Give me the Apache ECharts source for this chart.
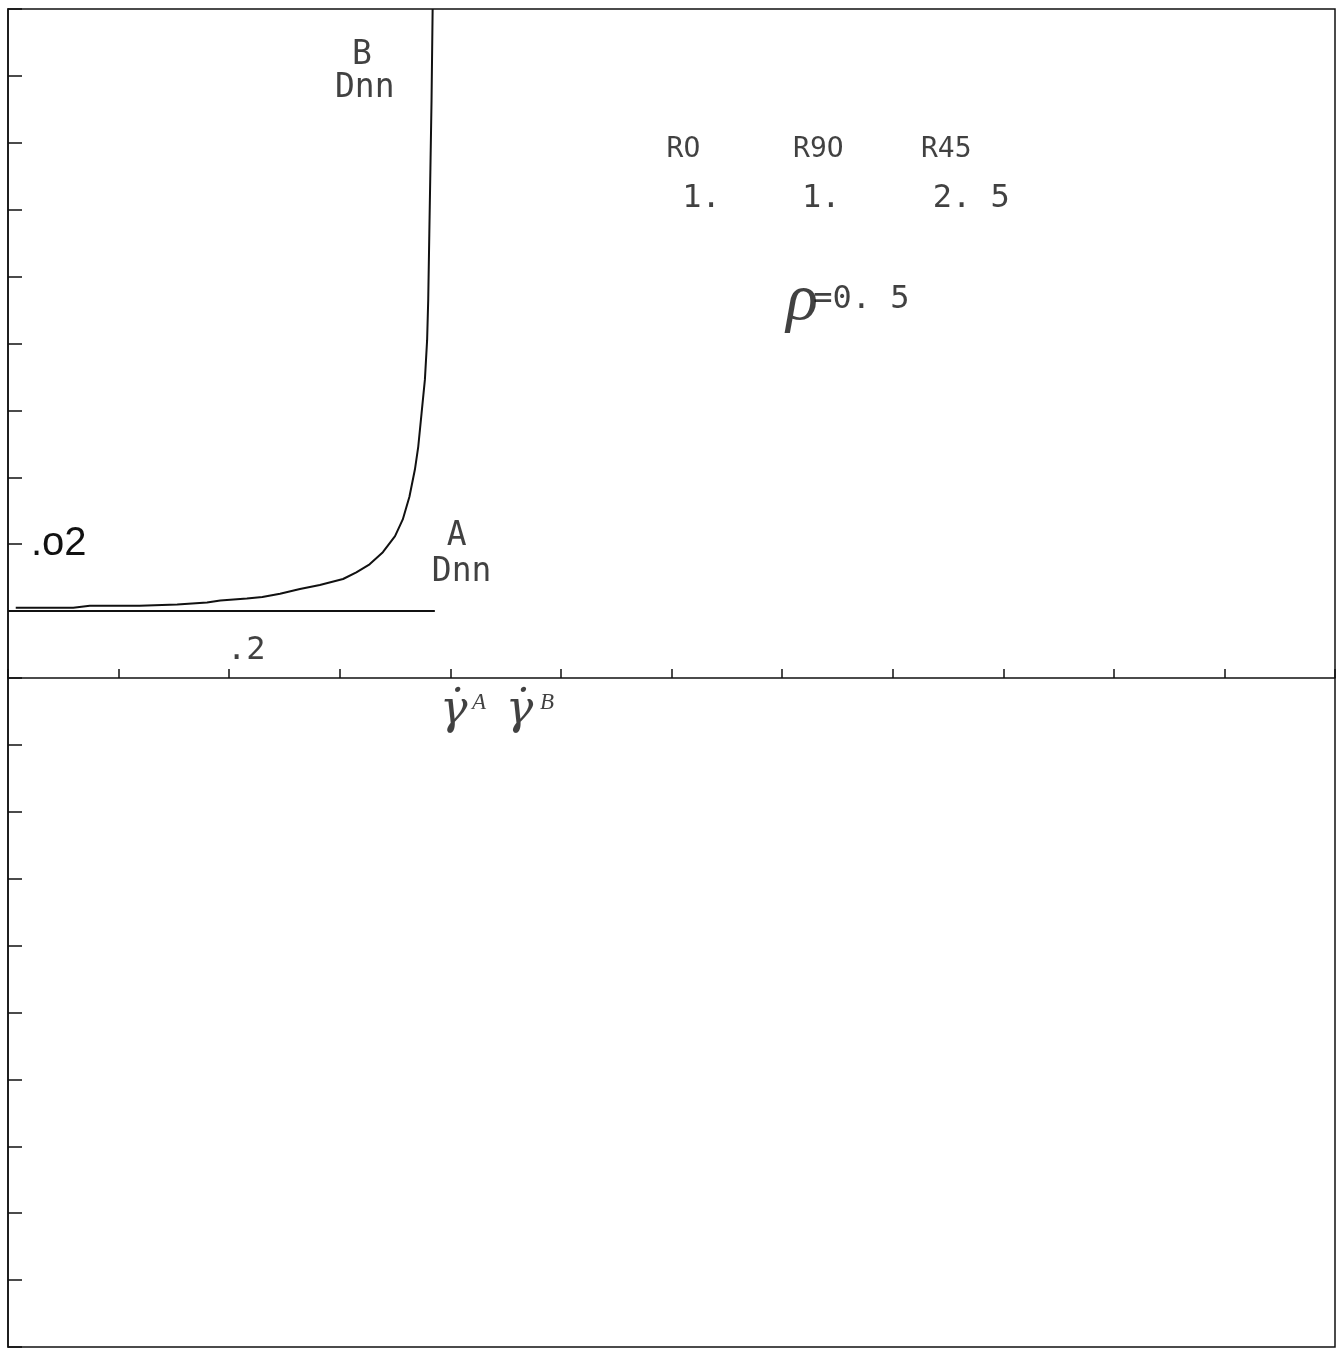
<!DOCTYPE html>
<html>
<head>
<meta charset="utf-8">
<style>
  html, body { margin: 0; padding: 0; background: #fff; }
  #chart { width: 1341px; height: 1349px; }
</style>
<script src="https://cdn.jsdelivr.net/npm/echarts@6/dist/echarts.min.js"></script>
</head>
<body>
<div id="chart"></div>
<script>
// curve to B (Dnn)
const curveBX = [0.007, 0.059, 0.074, 0.119, 0.153, 0.180, 0.192, 0.216, 0.230, 0.246,
  0.264, 0.282, 0.303, 0.315, 0.327, 0.339, 0.350, 0.357, 0.363, 0.368,
  0.371, 0.374, 0.377, 0.379, 0.380, 0.381, 0.382, 0.383, 0.384]
const curveBY = [0.0105, 0.0105, 0.0108, 0.0108, 0.0110, 0.0113, 0.0116, 0.0119, 0.0121, 0.0126,
  0.0133, 0.0139, 0.0148, 0.0158, 0.0170, 0.0188, 0.0212, 0.0237, 0.0271, 0.0312,
  0.0346, 0.0396, 0.0446, 0.0505, 0.0565, 0.0665, 0.0763, 0.0863, 0.1000]
// straight line to A (Dnn)
const lineAX = [0, 0.386]
const lineAY = [0.01, 0.01]

// only two ticks carry a label
const xTickValues = [0.2]
const xTickTexts = ['.2']
const yTickValue = 0.02
const yTickText = '.o2'

// notes written on the plot (data coordinates)
const curveNoteText = ['B', 'Dnn', 'A', 'Dnn']
const curveNoteX = [0.320, 0.3226, 0.4057, 0.4102]
const curveNoteY = [0.0931, 0.0882, 0.0211, 0.0158]

const headText = ['RO', 'R9O', 'R45']
const headX = [0.6108, 0.7328, 0.8485]
const headY = [0.0790, 0.0790, 0.0790]

const valueText = ['1.', '1.', '2. 5', '=0. 5']
const valueX = [0.6271, 0.7355, 0.8711, 0.7717]
const valueY = [0.0717, 0.0717, 0.0717, 0.0566]

const rhoText = ['ρ']
const rhoX = [0.7180]
const rhoY = [0.0562]

const rateText = ['γ̇', 'γ̇']
const rateX = [0.4030, 0.4626]
const rateY = [-0.0050, -0.0050]
const rateSubText = ['A', 'B']
const rateSubX = [0.4260, 0.4874]
const rateSubY = [-0.0037, -0.0037]

const zip = (xs, ys, txt) => xs.map((x, i) => [x, ys[i], txt ? txt[i] : null])

function noteSeries(xs, ys, txt, font) {
  return {
    type: 'scatter',
    silent: true,
    symbolSize: 1,
    itemStyle: { color: 'rgba(0,0,0,0)' },
    data: zip(xs, ys, txt),
    label: Object.assign({
      show: true,
      position: 'inside',
      align: 'center',
      verticalAlign: 'middle',
      color: '#111',
      formatter: p => p.value[2]
    }, font)
  }
}

const plotter = { fontFamily: 'DejaVu Sans Mono' }

const chart = echarts.init(document.getElementById('chart'))
chart.setOption({
  animation: false,
  backgroundColor: '#fff',
  grid: {
    left: 8, right: 6, top: 9, bottom: 2,
    show: true,
    borderColor: '#111',
    borderWidth: 1.5
  },
  xAxis: {
    type: 'value',
    min: 0,
    max: 1.2,
    interval: 0.1,
    splitLine: { show: false },
    axisLine: { onZero: true, lineStyle: { color: '#111', width: 1.5 } },
    axisTick: { inside: true, length: 9, lineStyle: { color: '#111', width: 1.5 } },
    axisLabel: { show: false }
  },
  yAxis: {
    type: 'value',
    min: -0.1,
    max: 0.1,
    interval: 0.01,
    splitLine: { show: false },
    axisLine: { show: true, lineStyle: { color: '#111', width: 1.5 } },
    axisTick: { inside: true, length: 14, lineStyle: { color: '#111', width: 1.5 } },
    axisLabel: {
      inside: true,
      margin: 23,
      color: '#111',
      fontFamily: 'Liberation Sans',
      fontWeight: 500,
      fontSize: 40,
      formatter: v => (Math.abs(v - yTickValue) < 1e-6 ? yTickText : '')
    }
  },
  series: [
    {
      type: 'line',
      name: 'B',
      silent: true,
      showSymbol: false,
      data: zip(curveBX, curveBY),
      lineStyle: { color: '#111', width: 2 }
    },
    {
      type: 'line',
      name: 'A',
      silent: true,
      showSymbol: false,
      data: zip(lineAX, lineAY),
      lineStyle: { color: '#111', width: 2 }
    },
    // the x tick label sits above the middle axis, right of its tick
    noteSeries(xTickValues, xTickValues.map(() => 0), xTickTexts,
      { fontFamily: 'DejaVu Sans Mono', fontSize: 32, offset: [17, -27] }),
    noteSeries(curveNoteX, curveNoteY, curveNoteText, Object.assign({ fontSize: 33 }, plotter)),
    noteSeries(headX, headY, headText, Object.assign({ fontSize: 28 }, plotter)),
    noteSeries(valueX, valueY, valueText, Object.assign({ fontSize: 32 }, plotter)),
    noteSeries(rhoX, rhoY, rhoText, { fontFamily: 'Liberation Serif', fontStyle: 'italic', fontSize: 66 }),
    noteSeries(rateX, rateY, rateText, { fontFamily: 'DejaVu Serif', fontStyle: 'italic', fontSize: 46 }),
    noteSeries(rateSubX, rateSubY, rateSubText, { fontFamily: 'Liberation Serif', fontStyle: 'italic', fontSize: 23 })
  ]
})
</script>
</body>
</html>
